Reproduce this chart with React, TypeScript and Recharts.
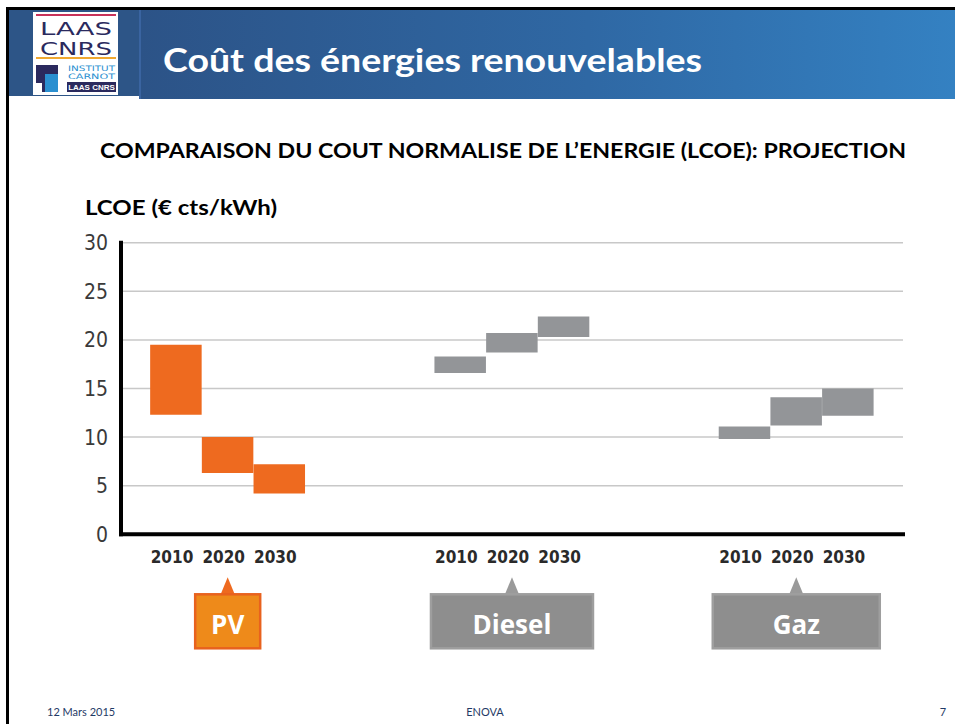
import React from 'react';
import { ComposedChart, Bar, XAxis, YAxis, CartesianGrid, Cell } from 'recharts';

// ---- data ----
const groups = ['PV', 'Diesel', 'Gaz'];
const years = ['2010', '2020', '2030'];
const pvLow = [12.3, 6.3, 4.2];
const pvHigh = [19.5, 10.0, 7.2];
const dieselLow = [16.6, 18.7, 20.3];
const dieselHigh = [18.3, 20.7, 22.4];
const gazLow = [9.8, 11.2, 12.2];
const gazHigh = [11.1, 14.1, 15.0];
const yTicks = [0, 5, 10, 15, 20, 25, 30];

// ---- layout ----
const groupOffsets = [0, 5.5, 11]; // slot of first bar of each group on the x axis
const calloutWidths = [65, 162, 167];
const W = 955;
const H = 724;

const lows = [pvLow, dieselLow, gazLow];
const highs = [pvHigh, dieselHigh, gazHigh];

const rows = groups.flatMap((g, gi) =>
  years.map((yr, yi) => ({
    pos: groupOffsets[gi] + yi,
    group: g,
    gi,
    yi,
    year: yr,
    range: [lows[gi][yi], highs[gi][yi]],
  }))
);

const ORANGE = '#EE6A1F';
const GREY = '#939598';
const CAL = "Lato, 'Open Sans', sans-serif";

const YearTick = (props: any) => {
  const { x, y, payload } = props;
  const row = rows.find((r) => Math.abs(r.pos - payload.value) < 1e-6);
  if (!row) return null;
  const isPV = row.gi === 0;
  const bw = calloutWidths[row.gi];
  return (
    <g>
      <text
        x={x - 4}
        y={y + 29}
        textAnchor="middle"
        fontFamily="'Liberation Sans Narrow', 'DejaVu Sans Condensed', sans-serif"
        fontWeight={700}
        fontSize={17}
        fill="#2a2a2a"
      >
        {row.year}
      </text>
      {row.yi === 1 && (
        <g>
          <polygon
            points={`${x - 7},${y + 60} ${x + 7},${y + 60} ${x},${y + 43}`}
            fill={isPV ? ORANGE : '#9a9a9a'}
          />
          <rect
            x={x - bw / 2}
            y={y + 60}
            width={bw}
            height={54}
            fill={isPV ? '#EE8A1A' : '#8E8E8E'}
            stroke={isPV ? '#E8621E' : '#9E9E9E'}
            strokeWidth={2.5}
          />
          <text
            x={x}
            y={y + 100}
            textAnchor="middle"
            fontFamily="'Open Sans', sans-serif"
            fontWeight={700}
            fontSize={26}
            fill="#fff"
          >
            {row.group}
          </text>
        </g>
      )}
    </g>
  );
};

const Overlay = () => (
  <svg
    width={W}
    height={H}
    style={{ position: 'absolute', left: 0, top: 0, pointerEvents: 'none' }}
  >
    <defs>
      <linearGradient id="hdr" x1="0" y1="0" x2="1" y2="0">
        <stop offset="0" stopColor="#2c5387" />
        <stop offset="0.55" stopColor="#2f68a4" />
        <stop offset="1" stopColor="#3481c2" />
      </linearGradient>
    </defs>
    {/* slide borders */}
    <rect x={6} y={7} width={W - 6} height={3} fill="#000" />
    <rect x={6} y={7} width={3} height={H - 7} fill="#000" />
    {/* header */}
    <rect x={140} y={10} width={W - 140} height={89} fill="url(#hdr)" />
    <rect x={9} y={10} width={131} height={86} fill="#2d5587" />
    <rect x={139} y={10} width={2} height={89} fill="#3a64a0" />
    {/* logo */}
    <rect x={33} y={12} width={85} height={83} fill="#fff" />
    <rect x={36} y={14} width={80} height={2} fill="#c8325a" />
    <g transform="translate(0,35) scale(1,1.3)">
      <text x={76} y={0} textAnchor="middle" fontFamily="'DejaVu Sans', sans-serif" fontSize={14} fill="#2b2a5e" textLength={72} lengthAdjust="spacingAndGlyphs">LAAS</text>
    </g>
    <g transform="translate(0,55) scale(1,1.3)">
      <text x={76} y={0} textAnchor="middle" fontFamily="'DejaVu Sans', sans-serif" fontSize={14} fill="#2b2a5e" textLength={72} lengthAdjust="spacingAndGlyphs">CNRS</text>
    </g>
    <rect x={36} y={57} width={80} height={2} fill="#f0a830" />
    <rect x={36} y={65} width={22} height={27} fill="#2b2a5e" />
    <rect x={45} y={74} width={13} height={18} fill="#2a8fd0" />
    <rect x={36} y={83} width={6} height={9} fill="#fff" />
    <text x={68} y={71} fontFamily="'DejaVu Sans', sans-serif" fontSize={7.5} fill="#2a8fd0" textLength={47} lengthAdjust="spacingAndGlyphs">INSTITUT</text>
    <text x={68} y={79} fontFamily="'DejaVu Sans', sans-serif" fontSize={7.5} fill="#2a8fd0" textLength={47} lengthAdjust="spacingAndGlyphs">CARNOT</text>
    <rect x={67} y={82} width={49} height={10} fill="#2b2a5e" />
    <text x={91.5} y={90} textAnchor="middle" fontFamily="'Liberation Sans Narrow', sans-serif" fontWeight={700} fontSize={8} fill="#fff">LAAS CNRS</text>
    {/* title */}
    <text x={163} y={72} fontFamily={CAL} fontWeight={700} fontSize={33} fill="#fff" textLength={539} lengthAdjust="spacingAndGlyphs">
      Coût des énergies renouvelables
    </text>
    <text x={100} y={158} fontFamily={CAL} fontWeight={700} fontSize={21} fill="#000" textLength={806} lengthAdjust="spacingAndGlyphs">
      COMPARAISON DU COUT NORMALISE DE L’ENERGIE (LCOE): PROJECTION
    </text>
    <text x={85} y={215} fontFamily={CAL} fontWeight={700} fontSize={21} fill="#000" textLength={192} lengthAdjust="spacingAndGlyphs">
      LCOE (€ cts/kWh)
    </text>
    {/* footer */}
    <text x={47} y={716} fontFamily={CAL} fontSize={11} fill="#1f3a66">12 Mars 2015</text>
    <text x={485} y={716} textAnchor="middle" fontFamily={CAL} fontSize={11} fill="#1f3a66">ENOVA</text>
    <text x={943} y={716} textAnchor="middle" fontFamily={CAL} fontSize={11} fill="#1f3a66">7</text>
  </svg>
);

export default function App() {
  return (
    <div style={{ position: 'absolute', left: 0, top: 0, width: W, height: H, background: '#fff', overflow: 'hidden' }}>
      <div style={{ position: 'absolute', left: 0, top: 0 }}>
        <ComposedChart
          width={W}
          height={H}
          data={rows}
          margin={{ top: 242.7, right: 52, bottom: 69.7, left: 61 }}
          barCategoryGap={0}
          barGap={0}
        >
          <CartesianGrid vertical={false} stroke="#c8c8c8" strokeWidth={1.5} />
          <XAxis
            dataKey="pos"
            type="number"
            domain={[-1.064, 14.065]}
            allowDataOverflow
            ticks={rows.map((r) => r.pos)}
            interval={0}
            tick={(p: any) => <YearTick {...p} />}
            tickLine={false}
            tickSize={0}
            tickMargin={0}
            height={120}
            axisLine={{ stroke: '#000', strokeWidth: 4, strokeLinecap: 'square' }}
          />
          <YAxis
            type="number"
            domain={[0, 30]}
            ticks={yTicks}
            interval={0}
            width={60}
            tickLine={false}
            tickSize={0}
            tickMargin={13}
            axisLine={{ stroke: '#000', strokeWidth: 4, strokeLinecap: 'square' }}
            tick={{
              fontFamily: "'Liberation Sans Narrow', 'DejaVu Sans Condensed', sans-serif",
              fontSize: 21,
              fill: '#3a3a3a',
            }}
          />
          <Bar dataKey="range" barSize={51.5} isAnimationActive={false}>
            {rows.map((r) => (
              <Cell key={r.pos} fill={r.gi === 0 ? ORANGE : GREY} />
            ))}
          </Bar>
        </ComposedChart>
      </div>
      <Overlay />
    </div>
  );
}
